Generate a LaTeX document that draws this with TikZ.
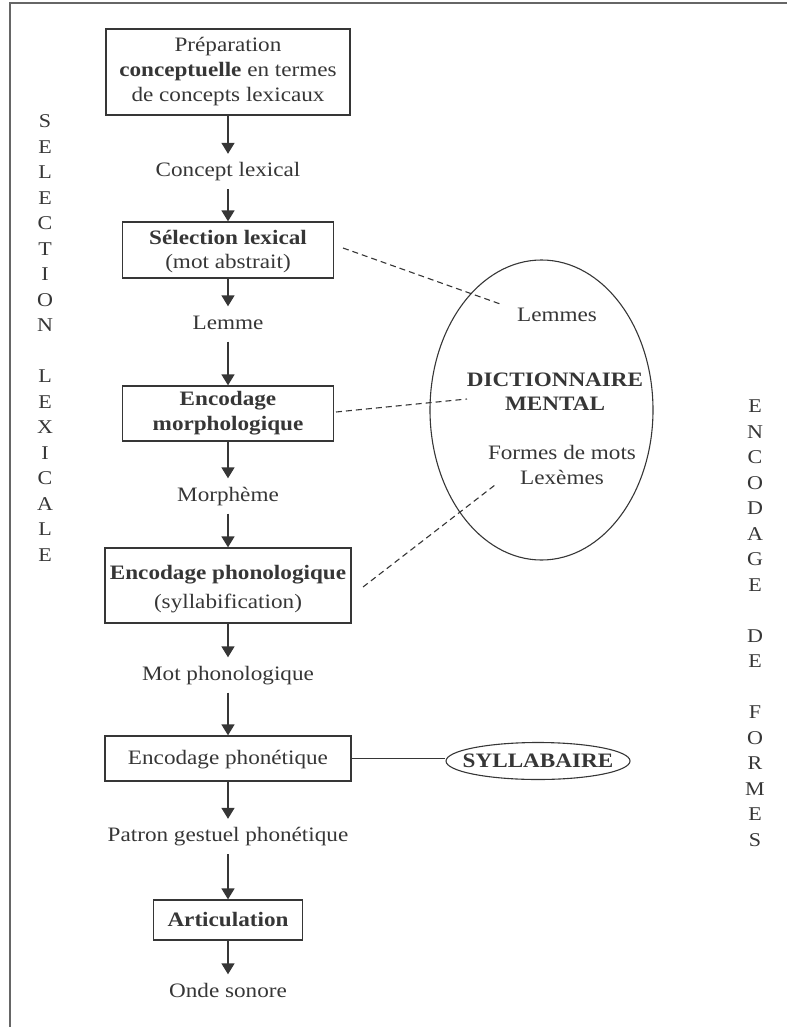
\documentclass[tikz,border=0pt]{standalone}
\usepackage{fontspec}
\setmainfont{Liberation Serif}[FakeStretch=1.13]
\usetikzlibrary{arrows.meta,shapes.geometric}
\definecolor{ink}{HTML}{363636}
\definecolor{rule}{HTML}{666666}

\begin{document}
\begin{tikzpicture}[x=1pt,y=-1pt,
  every node/.style={text=ink, inner sep=0pt},
  txt/.style={font=\fontsize{20.5}{25}\selectfont, align=center},
  label/.style={txt, text height=14pt, text depth=4pt, minimum height=35pt},
  stagebox/.style={txt, draw=ink, line width=1.3pt},
  flow/.style={draw=ink, line width=1.6pt, -{Triangle[width=13pt,length=11pt]}},
  link/.style={draw=ink, line width=1.1pt, dash pattern=on 6pt off 4pt},
  plain/.style={draw=ink, line width=1.3pt},
  vletters/.style={font=\fontsize{19.5}{25.5}\selectfont, align=center}
]
\useasboundingbox (0,0) rectangle (787,1027);

% frame
\draw[rule, line width=2pt] (9.5,1027) -- (9.5,3) -- (787,3);

% main column
\node[stagebox, minimum width=244pt, minimum height=86pt] (prep) at (228,72)
  {Préparation\\\textbf{conceptuelle} en termes\\de concepts lexicaux};
\node[label] (concept) at (228,171.5) {Concept lexical};
\node[stagebox, minimum width=211pt, minimum height=56pt,
      font=\fontsize{20.5}{24}\selectfont] (sel) at (228,250)
  {\rule{0pt}{17pt}\textbf{Sélection lexical}\\(mot abstrait)};
\node[label] (lemme) at (228,324) {Lemme};
\node[stagebox, minimum width=211pt, minimum height=55pt,
      font=\fontsize{20.5}{25}\selectfont\bfseries] (morph) at (228,413.5)
  {Encodage\\morphologique};
\node[label] (morpheme) at (228,496) {Morphème};
\node[stagebox, minimum width=246pt, minimum height=75pt,
      font=\fontsize{20.5}{29}\selectfont] (phono) at (228,585.5)
  {\rule{0pt}{22pt}\textbf{Encodage phonologique}\\(syllabification)};
\node[label] (motphono) at (228,675) {Mot phonologique};
\node[stagebox, minimum width=246pt, minimum height=45pt] (phonet) at (228,758.5)
  {\rule{0pt}{17pt}Encodage phonétique};
\node[label] (patron) at (228,836.5) {Patron gestuel phonétique};
\node[stagebox, minimum width=149pt, minimum height=40pt,
      font=\fontsize{20.5}{25}\selectfont\bfseries] (artic) at (228,920)
  {Articulation};
\node[label] (onde) at (228,992) {Onde sonore};

\draw[flow] (prep.south) -- (concept.north);
\draw[flow] (concept.south) -- (sel.north);
\draw[flow] (sel.south) -- (lemme.north);
\draw[flow] (lemme.south) -- (morph.north);
\draw[flow] (morph.south) -- (morpheme.north);
\draw[flow] (morpheme.south) -- (phono.north);
\draw[flow] (phono.south) -- (motphono.north);
\draw[flow] (motphono.south) -- (phonet.north);
\draw[flow] (phonet.south) -- (patron.north);
\draw[flow] (patron.south) -- (artic.north);
\draw[flow] (artic.south) -- (onde.north);

% mental lexicon
\node[draw=ink, line width=1.1pt, ellipse, minimum width=223pt, minimum height=300pt]
  (dict) at (541.5,410) {};
\node[txt] (lemmes) at (557,315) {Lemmes};
\node[txt, font=\fontsize{20.5}{24}\selectfont\bfseries] (dictname) at (555,392)
  {DICTIONNAIRE\\MENTAL};
\node[txt] (formes) at (562,464.5) {Formes de mots\\Lexèmes};

\coordinate (selend) at (343,248);
\coordinate (lemmaend) at (503,305);
\coordinate (morphend) at (336,412);
\coordinate (dictend) at (467,399);
\coordinate (phonoend) at (363,587);
\coordinate (formesend) at (495,485);
\draw[link] (selend) -- (lemmaend);
\draw[link] (morphend) -- (dictend);
\draw[link] (phonoend) -- (formesend);

% syllabary
\node[draw=ink, line width=1.1pt, ellipse, minimum width=184pt, minimum height=37pt]
  (syll) at (538,761) {};
\node[txt, font=\fontsize{20.5}{25}\selectfont\bfseries] (sylltext) at (syll) {SYLLABAIRE};
\draw[plain] (phonet.east) -- (phonet.east -| syll.west);

% side headings
\node[vletters] (selection) at (45,338)
  {S\\E\\L\\E\\C\\T\\I\\O\\N\\[25.5pt]L\\E\\X\\I\\C\\A\\L\\E};
\node[vletters] (encodage) at (755,623)
  {E\\N\\C\\O\\D\\A\\G\\E\\[25.5pt]D\\E\\[25.5pt]F\\O\\R\\M\\E\\S};
\end{tikzpicture}
\end{document}
